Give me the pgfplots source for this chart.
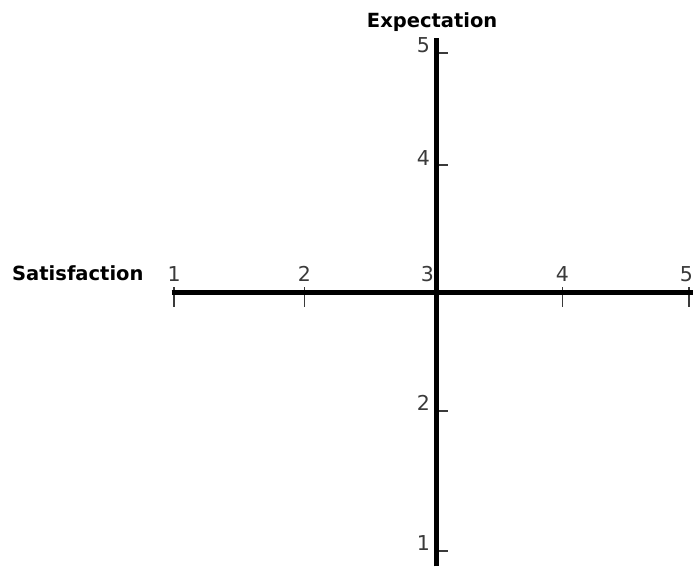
\documentclass[border=0pt]{standalone}
\usepackage{fontspec}
\setmainfont{DejaVu Sans}
\usepackage{pgfplots}
\pgfplotsset{compat=1.18}
\definecolor{tickgray}{HTML}{3A3A3A}

\begin{document}
\begin{tikzpicture}
\begin{axis}[
  x=129pt, y=129pt,
  axis lines=center,
  axis line style={-, line width=5pt, black},
  every inner x axis line/.append style={-},
  every inner y axis line/.append style={-},
  xmin=-2.05, xmax=1.99,
  ymin=-2.12, ymax=1.98,
  % tick positions as they sit in the (hand drawn) original
  xtick={-2.03,-1.02,0,0.98,1.96},
  xticklabels={1,2,\makebox[0pt][r]{3\hspace{2pt}},4,\makebox[0pt][r]{5\hspace{-4pt}}},
  ytick={-2,-0.915,0.99,1.86},
  yticklabels={1,2,4,5},
  minor ytick={-2,-0.915,0.99,1.86},
  hide obscured x ticks=false,
  hide obscured y ticks=false,
  major tick length=20pt,
  minor tick length=12pt,
  xtick align=center,
  ytick align=inside,
  major x tick style={tickgray, line width=1.6pt, yshift=-4pt},
  major y tick style={draw=none},
  minor y tick style={tickgray, line width=1.6pt},
  ticklabel style={font=\fontsize{20.5}{24}\selectfont, text=tickgray},
  xticklabel style={anchor=south, inner sep=0pt, yshift=21pt},
  yticklabel style={anchor=south east, inner sep=0pt, xshift=-6pt},
  clip=false,
]
\node[font=\fontsize{19.5}{22}\selectfont\bfseries, anchor=base, inner sep=0pt]
  at (axis cs:-0.03,2.06) {Expectation};
\node[font=\fontsize{19.5}{22}\selectfont\bfseries, anchor=base west, inner sep=0pt]
  at (axis cs:-3.287,0.10) {Satisfaction};
\coordinate (bl) at (axis cs:-3.38,-2.124);
\coordinate (tr) at (axis cs:1.992,2.271);
\end{axis}
\pgfresetboundingbox
\useasboundingbox (bl) rectangle (tr);
\end{tikzpicture}
\end{document}
